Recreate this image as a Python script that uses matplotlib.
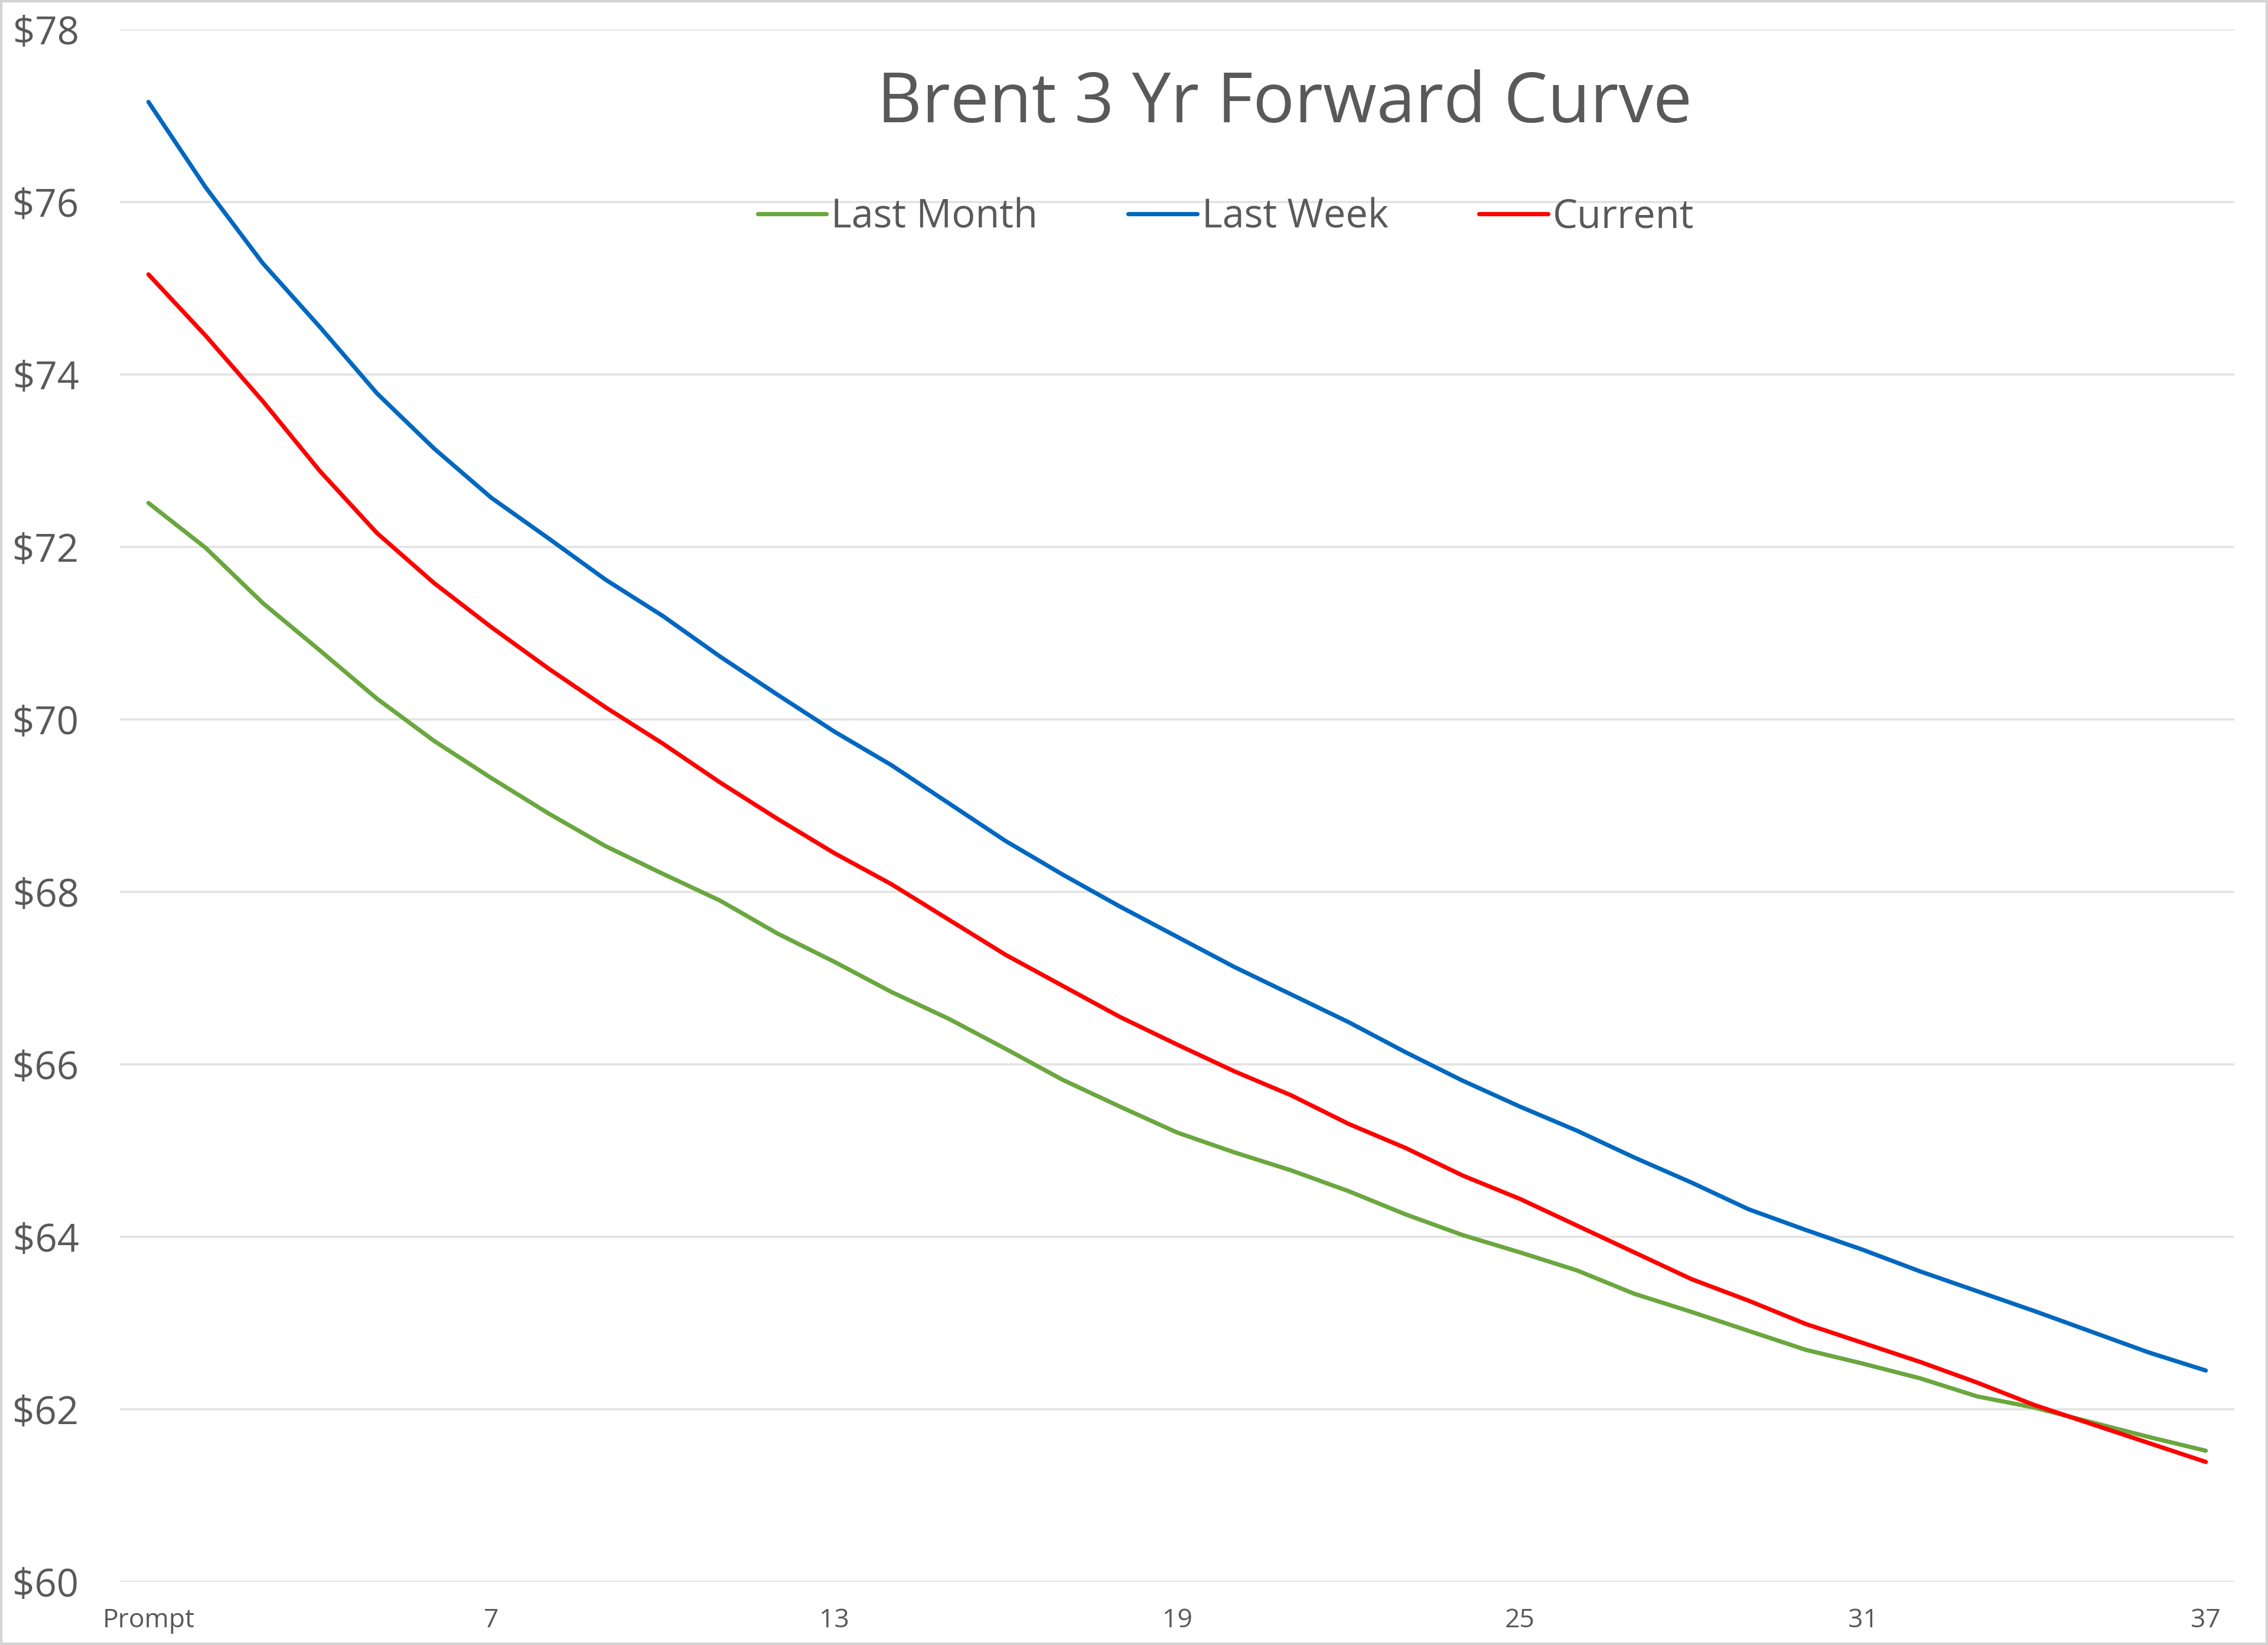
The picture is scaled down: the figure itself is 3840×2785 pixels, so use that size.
import matplotlib
matplotlib.use("Agg")
import matplotlib.pyplot as plt
from matplotlib.patches import Rectangle

plt.rcParams["font.family"] = ["Open Sans", "DejaVu Sans"]

# months out along the curve, 1 = prompt
tick_pos = [0, 6, 12, 18, 24, 30, 36]
tick_labels = ["Prompt", "7", "13", "19", "25", "31", "37"]

last_month = [72.51, 71.99, 71.35, 70.80, 70.24, 69.75, 69.32, 68.91, 68.53, 68.21,
              67.90, 67.52, 67.19, 66.84, 66.53, 66.18, 65.82, 65.51, 65.21, 64.98,
              64.77, 64.53, 64.26, 64.02, 63.82, 63.61, 63.34, 63.13, 62.91, 62.69,
              62.53, 62.36, 62.15, 62.02, 61.85, 61.68, 61.52]
last_week = [77.16, 76.17, 75.29, 74.55, 73.78, 73.14, 72.57, 72.10, 71.62, 71.20,
             70.73, 70.29, 69.86, 69.47, 69.03, 68.59, 68.20, 67.83, 67.48, 67.13,
             66.81, 66.49, 66.14, 65.81, 65.51, 65.23, 64.92, 64.63, 64.32, 64.08,
             63.85, 63.60, 63.37, 63.14, 62.90, 62.66, 62.45]
current = [75.16, 74.45, 73.69, 72.88, 72.16, 71.58, 71.07, 70.59, 70.14, 69.72,
           69.27, 68.85, 68.45, 68.09, 67.68, 67.27, 66.91, 66.55, 66.23, 65.92,
           65.64, 65.31, 65.03, 64.71, 64.44, 64.13, 63.82, 63.51, 63.26, 62.99,
           62.77, 62.55, 62.31, 62.05, 61.83, 61.61, 61.39]

series = [
    ("Last Month", last_month, "#6AA73F"),
    ("Last Week", last_week, "#0068C0"),
    ("Current", current, "#FF0000"),
]
y_ticks = list(range(60, 79, 2))

TEXT = "#595959"
W, H = 3840, 2785

fig = plt.figure(figsize=(W / 100, H / 100), dpi=100)
ax = fig.add_axes([203 / W, 1 - 2678 / H, (3783 - 203) / W, (2678 - 50) / H])

months = list(range(len(current)))
for name, vals, color in series:
    ax.plot(months, vals, color=color, lw=5.2, label=name,
            solid_joinstyle="round", solid_capstyle="round")

ax.set_xlim(-0.5, len(current) - 0.5)
ax.set_ylim(60, 78)
ax.set_yticks(y_ticks)
ax.set_yticklabels([f"${v}" for v in y_ticks])
ax.set_xticks(tick_pos)
ax.set_xticklabels(tick_labels)
ax.tick_params(axis="y", length=0, pad=50, labelsize=47, labelcolor=TEXT)
ax.tick_params(axis="x", length=0, pad=31, labelsize=32, labelcolor=TEXT)
ax.grid(axis="y", color="#E3E3E3", lw=2.6)
ax.set_axisbelow(True)
for s in ax.spines.values():
    s.set_visible(False)

fig.text(0.5665, 1 - 176 / H, "Brent 3 Yr Forward Curve", ha="center", va="center",
         fontsize=84.5, color=TEXT)

fig.legend(loc="center", bbox_to_anchor=(0.5405, 1 - 368 / H), ncol=3, frameon=False,
           fontsize=48, labelcolor=TEXT, handlelength=1.75, handletextpad=0.12,
           columnspacing=2.3)

fig.patches.append(Rectangle((0, 0), 1, 1, transform=fig.transFigure, fill=False,
                             edgecolor="#D4D4D4", lw=6, zorder=10))

fig.savefig("out.png", dpi=100, facecolor="white")
